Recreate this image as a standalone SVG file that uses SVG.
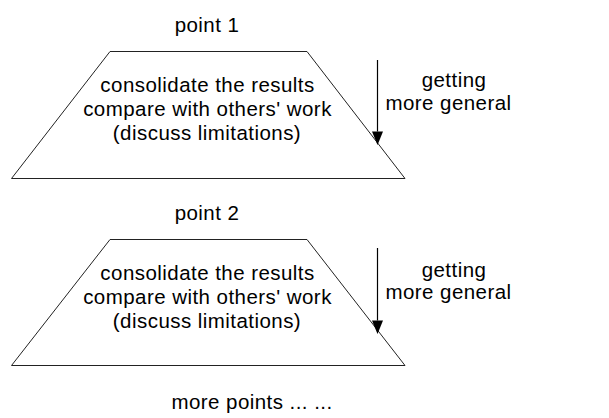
<svg xmlns="http://www.w3.org/2000/svg" width="609" height="418" viewBox="0 0 609 418">
<style>
text{font-family:"Liberation Sans",Arial,sans-serif;font-size:20.5px;fill:#000;letter-spacing:0.45px}
.c{text-anchor:middle}
.shape{fill:#fff;stroke:#222;stroke-width:1}
.arr{stroke:#000;stroke-width:1.2;fill:none}
</style>
<rect width="609" height="418" fill="#fff"/>
<g id="block1">
<text class="c" x="207" y="32">point 1</text>
<polygon class="shape" points="110,51.5 307,51.5 405,178.5 11.5,178.5"/>
<text class="c" x="207.5" y="92">consolidate the results</text>
<text class="c" x="207.5" y="116">compare with others' work</text>
<text class="c" x="207" y="139.5">(discuss limitations)</text>
<text class="c" x="454" y="87">getting</text>
<text class="c" x="448.5" y="110">more general</text>
</g>
<g id="block2">
<text class="c" x="207" y="220">point 2</text>
<polygon class="shape" points="110,239.5 307,239.5 405,365.5 11.5,365.5"/>
<text class="c" x="207.5" y="280">consolidate the results</text>
<text class="c" x="207.5" y="304">compare with others' work</text>
<text class="c" x="207" y="327.5">(discuss limitations)</text>
<text class="c" x="454" y="277">getting</text>
<text class="c" x="448.5" y="299">more general</text>
</g>
<g id="more">
<text class="c" x="252" y="409">more points ... ...</text>
</g>
<g id="connectors">
<line class="arr" x1="377.5" y1="60" x2="377.5" y2="131.5"/>
<path d="M372,131.5 L383,131.5 L377.5,145 Z" fill="#000"/>
<line class="arr" x1="377.5" y1="248" x2="377.5" y2="320.5"/>
<path d="M372,320.5 L383,320.5 L377.5,334 Z" fill="#000"/>
</g>
</svg>
